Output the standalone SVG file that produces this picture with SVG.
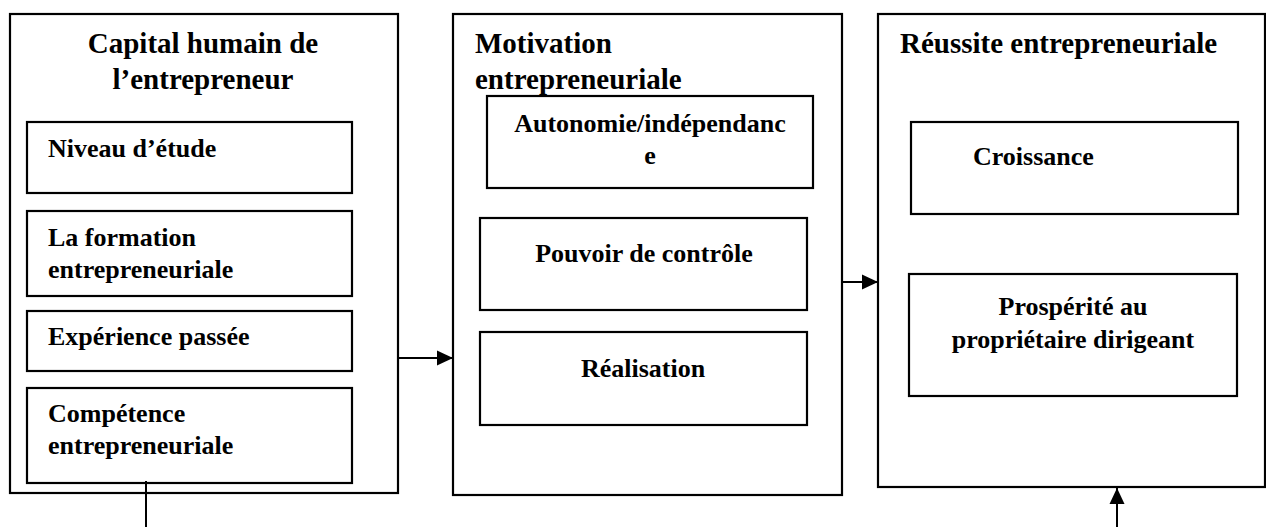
<svg xmlns="http://www.w3.org/2000/svg" width="1266" height="527" viewBox="0 0 1266 527">
<style>
.box{fill:#fff;stroke:#000;stroke-width:2.2}
.t{font-family:"Liberation Serif","Times New Roman",serif;font-weight:bold;font-size:29px;fill:#000}
.s{font-family:"Liberation Serif","Times New Roman",serif;font-weight:bold;font-size:26px;fill:#000}
.c{text-anchor:middle}
.ln{stroke:#000;stroke-width:2;fill:none}
</style>
<defs>
<marker id="ah" markerWidth="16" markerHeight="16" refX="16" refY="8" orient="auto" markerUnits="userSpaceOnUse">
<path d="M0,0.5 L16,8 L0,15.5 Z" fill="#000"/>
</marker>
</defs>
<rect width="1266" height="527" fill="#fff"/>
<g id="capital">
<rect class="box" x="10" y="14" width="388" height="479"/>
<text class="t c" x="203" y="53">Capital humain de</text>
<text class="t c" x="203" y="89">l’entrepreneur</text>
</g>
<g id="niveau">
<rect class="box" x="27" y="122" width="325" height="71"/>
<text class="s" x="48" y="157">Niveau d’étude</text>
</g>
<g id="formation">
<rect class="box" x="27" y="211" width="325" height="85"/>
<text class="s" x="48" y="246">La formation</text>
<text class="s" x="48" y="278">entrepreneuriale</text>
</g>
<g id="experience">
<rect class="box" x="27" y="311" width="325" height="60"/>
<text class="s" x="48" y="345">Expérience passée</text>
</g>
<g id="competence">
<rect class="box" x="27" y="388" width="325" height="95"/>
<text class="s" x="48" y="422">Compétence</text>
<text class="s" x="48" y="454">entrepreneuriale</text>
</g>
<g id="motivation">
<rect class="box" x="453" y="14" width="389" height="481"/>
<text class="t" x="475" y="53">Motivation</text>
<text class="t" x="475" y="89">entrepreneuriale</text>
</g>
<g id="autonomie">
<rect class="box" x="487" y="96" width="326" height="92"/>
<text class="s c" x="650" y="132">Autonomie/indépendanc</text>
<text class="s c" x="650" y="164">e</text>
</g>
<g id="pouvoir">
<rect class="box" x="480" y="218" width="327" height="92"/>
<text class="s c" x="644" y="262">Pouvoir de contrôle</text>
</g>
<g id="realisation">
<rect class="box" x="480" y="332" width="327" height="93"/>
<text class="s c" x="643" y="377">Réalisation</text>
</g>
<g id="reussite">
<rect class="box" x="878" y="14" width="387" height="473"/>
<text class="t" x="900" y="53">Réussite entrepreneuriale</text>
</g>
<g id="croissance">
<rect class="box" x="911" y="122" width="327" height="92"/>
<text class="s" x="973" y="165">Croissance</text>
</g>
<g id="prosperite">
<rect class="box" x="909" y="274" width="328" height="122"/>
<text class="s c" x="1073" y="315">Prospérité au</text>
<text class="s c" x="1073" y="348">propriétaire dirigeant</text>
</g>
<g id="connectors">
<line class="ln" x1="398" y1="358" x2="453" y2="358" marker-end="url(#ah)"/>
<line class="ln" x1="842" y1="282" x2="878" y2="282" marker-end="url(#ah)"/>
<line class="ln" x1="146" y1="481" x2="146" y2="527"/>
<line class="ln" x1="1117" y1="527" x2="1117" y2="488" marker-end="url(#ah)"/>
</g>
</svg>
